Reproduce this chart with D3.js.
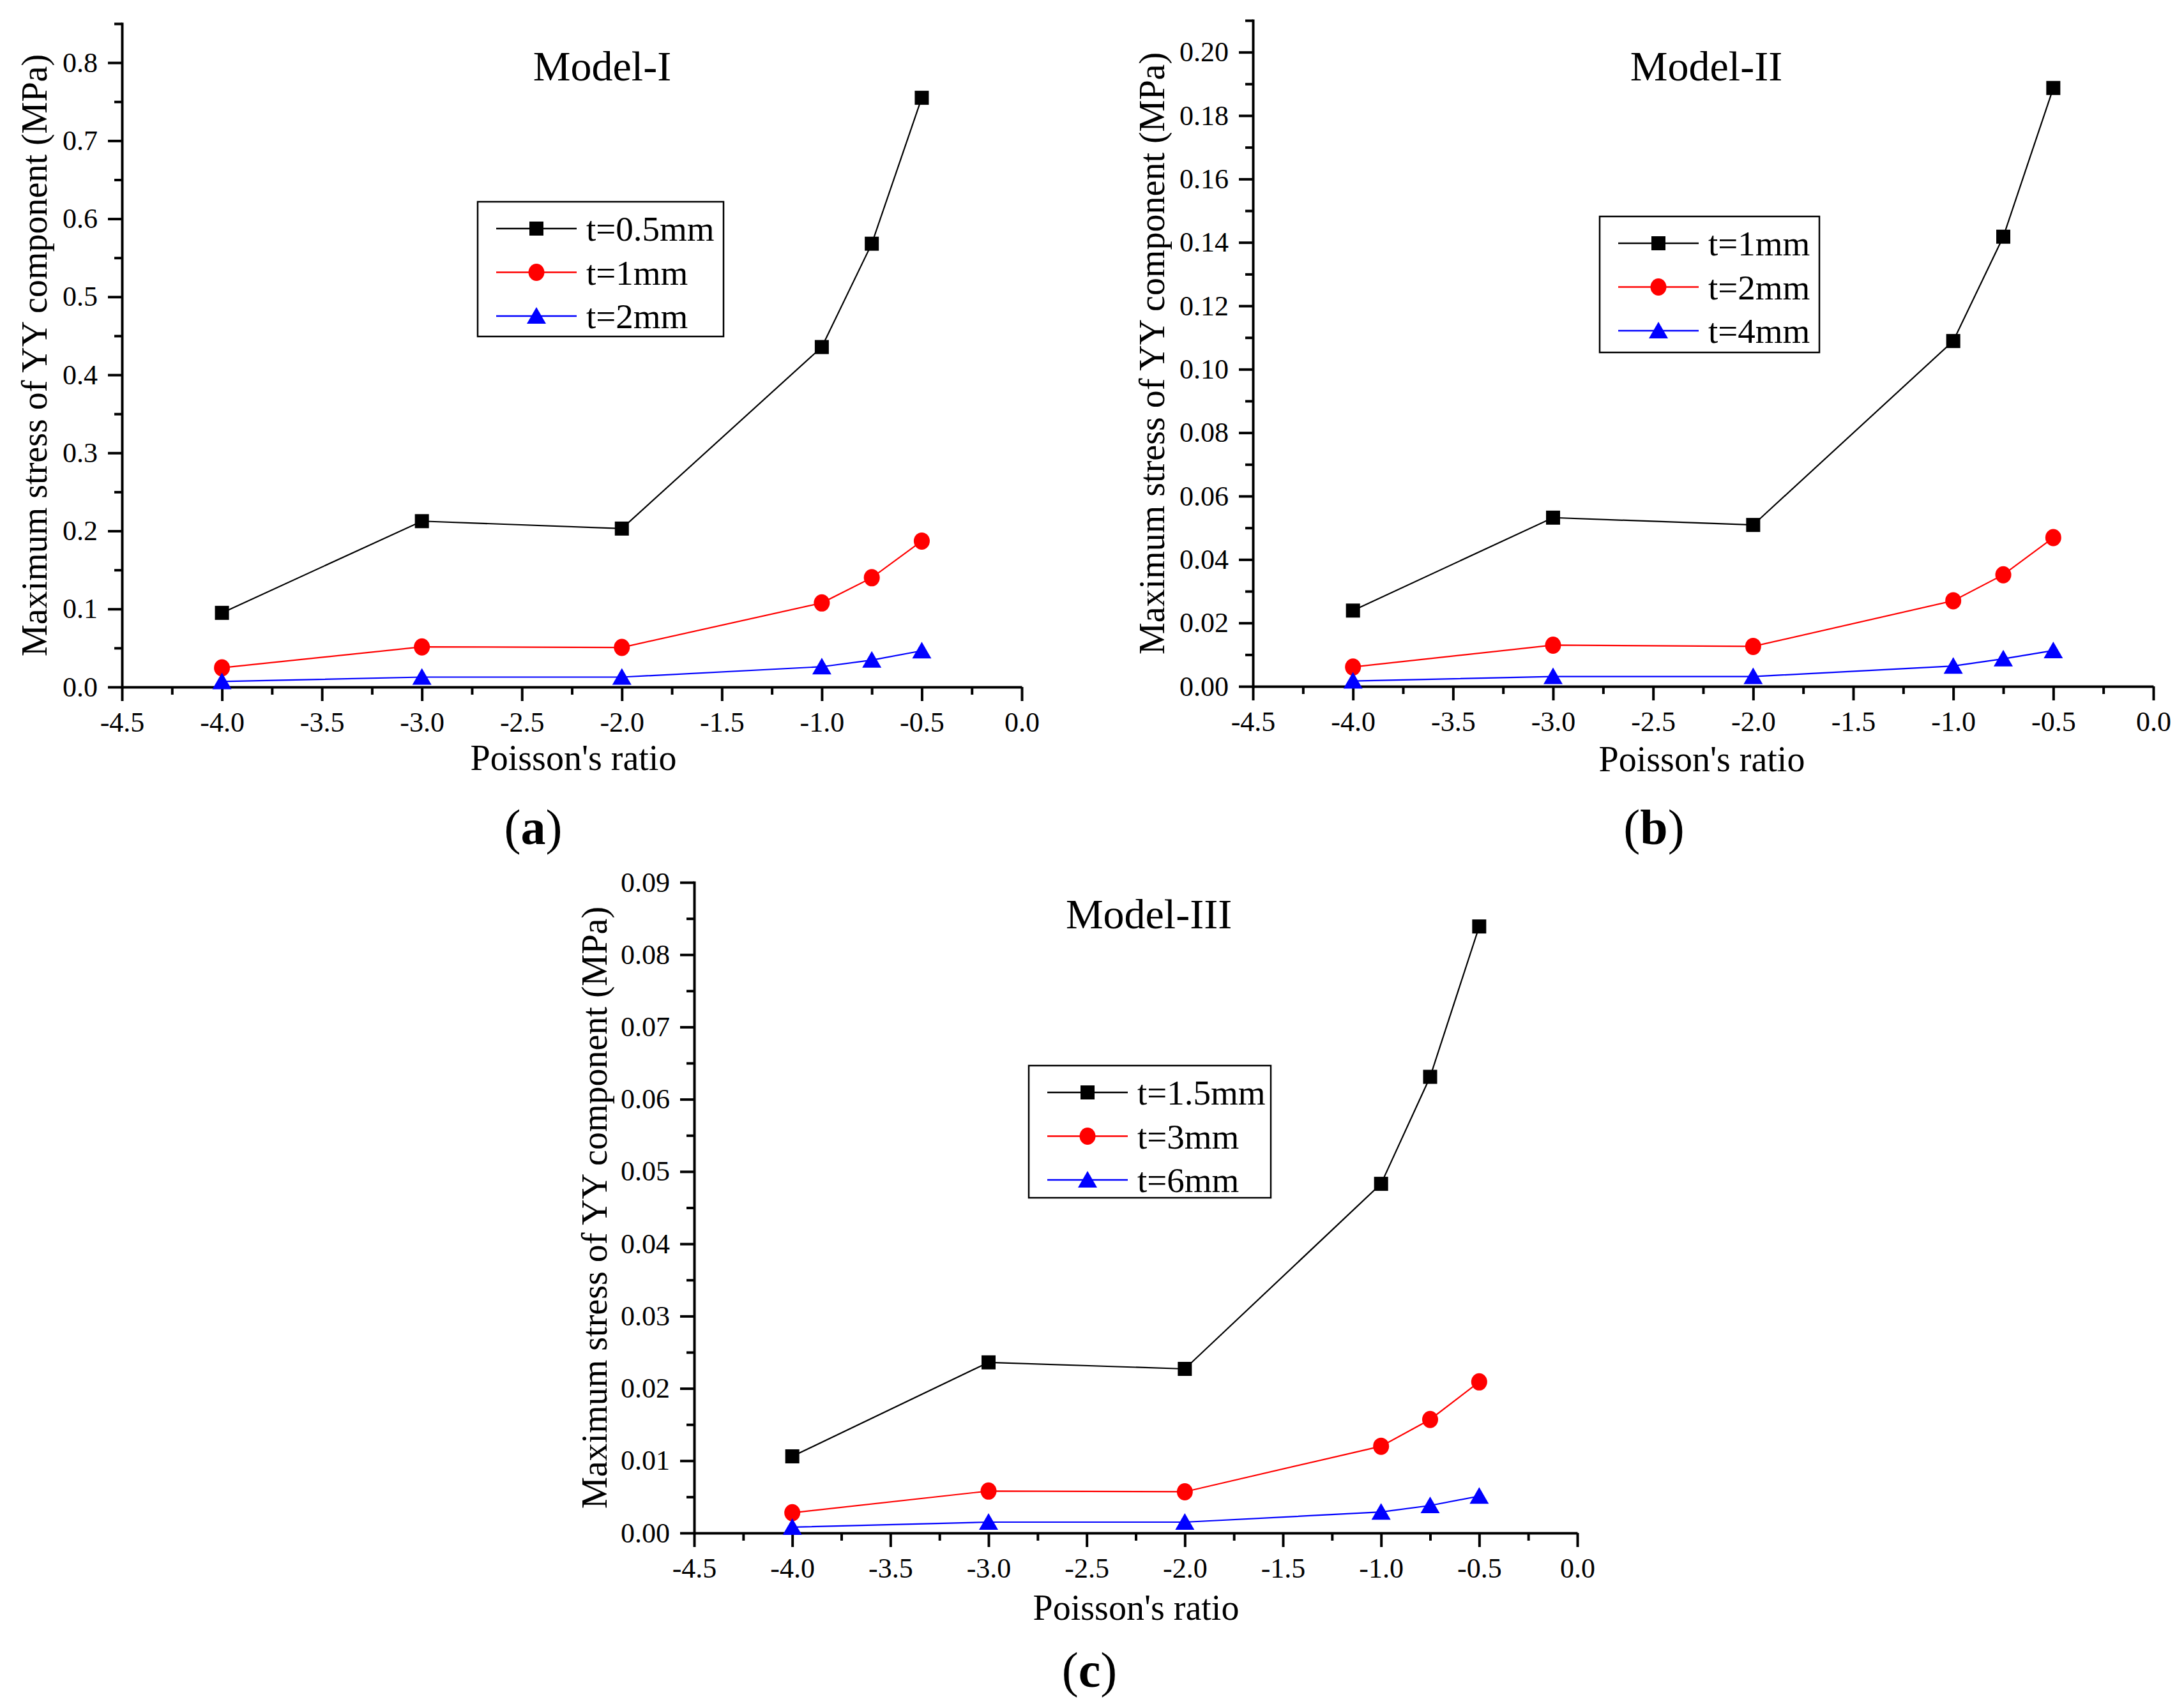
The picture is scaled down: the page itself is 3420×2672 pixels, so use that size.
<!DOCTYPE html>
<html>
<head>
<meta charset="utf-8">
<script src="https://cdn.jsdelivr.net/npm/d3@7"></script>
<style>
  body { margin: 0; background: #fff; }
  svg text { font-family: "Liberation Serif", "Times New Roman", serif; }
</style>
</head>
<body>
<svg id="chart" width="3420" height="2672"></svg>
<script>
// Poisson's ratio values (x) shared by every series
var poisson = [-4, -3, -2, -1, -0.75, -0.5];

// Model-I
var modelI_t05 = [0.095, 0.2125, 0.203, 0.4356, 0.568, 0.755];
var modelI_t1 = [0.0246, 0.0514, 0.0507, 0.1077, 0.140, 0.187];
var modelI_t2 = [0.007, 0.0127, 0.0127, 0.026, 0.0345, 0.0464];
var modelI_labels = ['t=0.5mm', 't=1mm', 't=2mm'];

// Model-II
var modelII_t1 = [0.0239, 0.0532, 0.0509, 0.1089, 0.1418, 0.1887];
var modelII_t2 = [0.0061, 0.0130, 0.0126, 0.0270, 0.0352, 0.0469];
var modelII_t4 = [0.0017, 0.0031, 0.0031, 0.0064, 0.0087, 0.0113];
var modelII_labels = ['t=1mm', 't=2mm', 't=4mm'];

// Model-III
var modelIII_t15 = [0.0106, 0.0236, 0.0227, 0.0483, 0.0631, 0.0839];
var modelIII_t3 = [0.0028, 0.0058, 0.0057, 0.0120, 0.0157, 0.0209];
var modelIII_t6 = [0.0008, 0.0015, 0.0015, 0.0029, 0.0038, 0.0051];
var modelIII_labels = ['t=1.5mm', 't=3mm', 't=6mm'];

// tick values
var xTicks = [-4.5, -4.0, -3.5, -3.0, -2.5, -2.0, -1.5, -1.0, -0.5, 0.0];
var xMinorTicks = [-4.25, -3.75, -3.25, -2.75, -2.25, -1.75, -1.25, -0.75, -0.25];
var yTicksI = [0.0, 0.1, 0.2, 0.3, 0.4, 0.5, 0.6, 0.7, 0.8];
var yTicksII = [0.00, 0.02, 0.04, 0.06, 0.08, 0.10, 0.12, 0.14, 0.16, 0.18, 0.20];
var yTicksIII = [0.00, 0.01, 0.02, 0.03, 0.04, 0.05, 0.06, 0.07, 0.08, 0.09];

var colors = ['#000000', '#ff0000', '#0000ff'];
var shapes = ['square', 'circle', 'triangle'];

var panels = [
  {title: 'Model-I', letter: 'a', series: [modelI_t05, modelI_t1, modelI_t2], labels: modelI_labels,
   yMax: 0.85, yTicks: yTicksI, yMinorStep: 0.05, fmt: '.1f',
   x0: 191, x1: 1600, yTop: 37, yBot: 1076,
   titlePos: [943, 126], legend: [748, 316, 385, 211],
   xlabelPos: [898, 1206], letterPos: [835, 1322], ylabelX: 73},
  {title: 'Model-II', letter: 'b', series: [modelII_t1, modelII_t2, modelII_t4], labels: modelII_labels,
   yMax: 0.21, yTicks: yTicksII, yMinorStep: 0.01, fmt: '.2f',
   x0: 1962, x1: 3372, yTop: 32, yBot: 1075,
   titlePos: [2672, 126], legend: [2505, 339, 344, 213],
   xlabelPos: [2665, 1208], letterPos: [2590, 1322], ylabelX: 1823},
  {title: 'Model-III', letter: 'c', series: [modelIII_t15, modelIII_t3, modelIII_t6], labels: modelIII_labels,
   yMax: 0.09, yTicks: yTicksIII, yMinorStep: 0.005, fmt: '.2f',
   x0: 1087, x1: 2470, yTop: 1382, yBot: 2401,
   titlePos: [1799, 1454], legend: [1611, 1669, 379, 207],
   xlabelPos: [1779, 2537], letterPos: [1706, 2642], ylabelX: 950}
];

var svg = d3.select('#chart');
var serif = '"Liberation Serif", "Times New Roman", serif';

// plain hyphen instead of d3's unicode minus, like the original
function fmtHyphen(spec) {
  var f = d3.format(spec);
  return function(d) { return f(d).replace('\u2212', '-'); };
}

function marker(g, shape, cx, cy, color) {
  if (shape === 'square') {
    g.append('rect').attr('x', cx - 11).attr('y', cy - 11)
      .attr('width', 22).attr('height', 22).attr('fill', color);
  } else if (shape === 'circle') {
    g.append('ellipse').attr('cx', cx).attr('cy', cy)
      .attr('rx', 12.5).attr('ry', 13.5).attr('fill', color);
  } else {
    g.append('path')
      .attr('d', 'M' + (cx - 15) + ',' + (cy + 12) + 'L' + (cx + 15) + ',' + (cy + 12) + 'L' + cx + ',' + (cy - 14) + 'Z')
      .attr('fill', color);
  }
}

panels.forEach(function(p) {
  var x = d3.scaleLinear().domain([-4.5, 0]).range([p.x0, p.x1]);
  var y = d3.scaleLinear().domain([0, p.yMax]).range([p.yBot, p.yTop]);

  var minorY = d3.range(p.yMinorStep, p.yMax + 1e-9, p.yMinorStep)
    .filter(function(v) { return !p.yTicks.some(function(t) { return Math.abs(t - v) < 1e-9; }); });

  var g = svg.append('g');

  // minor ticks first
  g.append('g').attr('transform', 'translate(' + p.x0 + ',0)')
    .call(d3.axisLeft(y).tickValues(minorY).tickSize(12).tickSizeOuter(0).tickFormat(''))
    .call(function(a) { a.select('.domain').remove(); });
  g.append('g').attr('transform', 'translate(0,' + p.yBot + ')')
    .call(d3.axisBottom(x).tickValues(xMinorTicks).tickSize(12).tickSizeOuter(0).tickFormat(''))
    .call(function(a) { a.select('.domain').remove(); });

  var yAxis = g.append('g').attr('transform', 'translate(' + p.x0 + ',0)')
    .call(d3.axisLeft(y).tickValues(p.yTicks).tickSize(22).tickSizeOuter(0).tickPadding(16).tickFormat(fmtHyphen(p.fmt)));
  var xAxis = g.append('g').attr('transform', 'translate(0,' + p.yBot + ')')
    .call(d3.axisBottom(x).tickValues(xTicks).tickSize(22).tickSizeOuter(0).tickPadding(17).tickFormat(fmtHyphen('.1f')));

  [yAxis, xAxis].forEach(function(a) {
    a.attr('font-family', null).attr('font-size', null);
    a.selectAll('text').attr('font-size', 44).style('font-family', serif).attr('fill', '#000');
  });
  g.selectAll('.domain, .tick line').attr('stroke', '#000').attr('stroke-width', 4);
  yAxis.select('.domain').attr('stroke-linecap', 'square');

  // series
  var line = d3.line().x(function(d) { return x(d[0]); }).y(function(d) { return y(d[1]); });
  p.series.forEach(function(vals, i) {
    var pts = poisson.map(function(px, k) { return [px, vals[k]]; });
    g.append('path').datum(pts).attr('d', line)
      .attr('fill', 'none').attr('stroke', colors[i]).attr('stroke-width', 2.2);
    var mg = g.append('g');
    pts.forEach(function(d) { marker(mg, shapes[i], x(d[0]), y(d[1]), colors[i]); });
  });

  // legend
  var L = p.legend;
  var lg = g.append('g');
  lg.append('rect').attr('x', L[0]).attr('y', L[1]).attr('width', L[2]).attr('height', L[3])
    .attr('fill', '#fff').attr('stroke', '#000').attr('stroke-width', 2.5);
  p.labels.forEach(function(lab, i) {
    var ry = L[1] + 42 + i * 68.5;
    lg.append('line').attr('x1', L[0] + 29).attr('x2', L[0] + 155).attr('y1', ry).attr('y2', ry)
      .attr('stroke', colors[i]).attr('stroke-width', 2.5);
    marker(lg, shapes[i], L[0] + 92, ry, colors[i]);
    lg.append('text').attr('x', L[0] + 170).attr('y', ry + 19).attr('font-size', 55).text(lab);
  });

  // titles and labels
  g.append('text').attr('x', p.titlePos[0]).attr('y', p.titlePos[1])
    .attr('text-anchor', 'middle').attr('font-size', 66).text(p.title);
  g.append('text').attr('x', p.xlabelPos[0]).attr('y', p.xlabelPos[1])
    .attr('text-anchor', 'middle').attr('font-size', 56).text("Poisson's ratio");
  g.append('text')
    .attr('transform', 'translate(' + p.ylabelX + ',' + ((p.yTop + p.yBot) / 2) + ') rotate(-90)')
    .attr('text-anchor', 'middle').attr('font-size', 56)
    .text('Maximum stress of YY component (MPa)');
  var lt = g.append('text').attr('x', p.letterPos[0]).attr('y', p.letterPos[1])
    .attr('text-anchor', 'middle').attr('font-size', 78);
  lt.append('tspan').text('(');
  lt.append('tspan').attr('font-weight', 'bold').text(p.letter);
  lt.append('tspan').text(')');
});
</script>
</body>
</html>
